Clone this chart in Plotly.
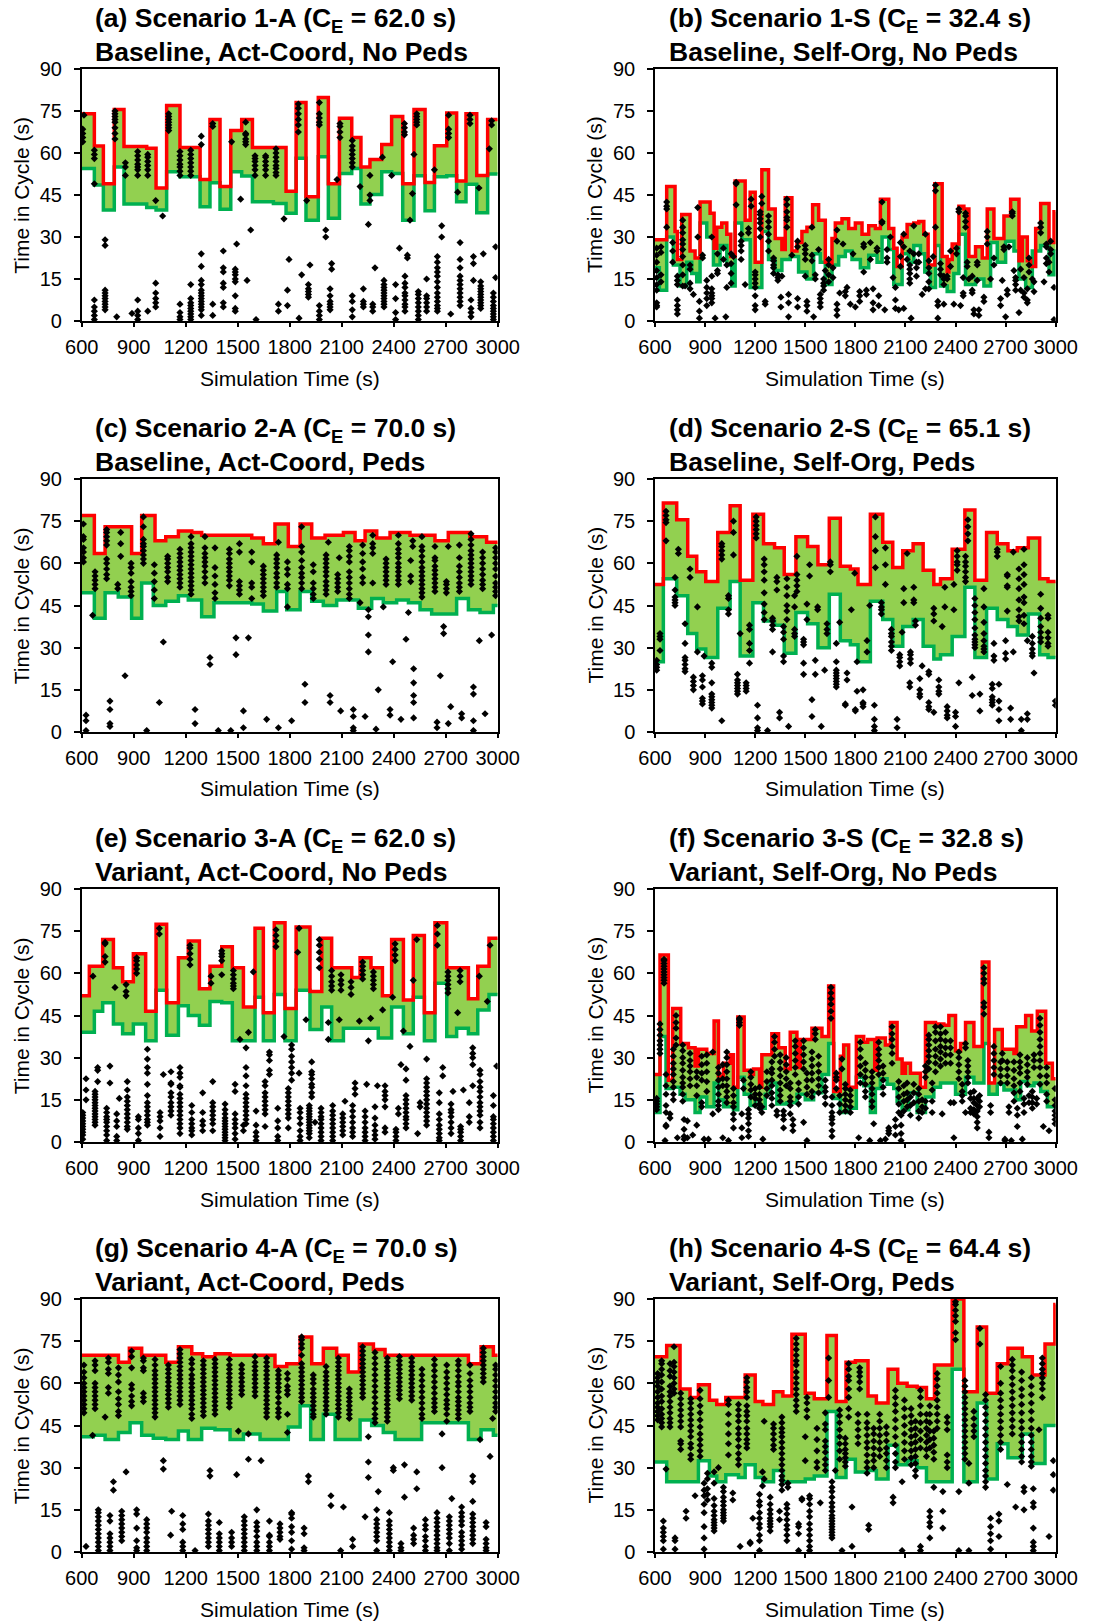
import plotly.graph_objects as go

# ---------------- data ----------------
TITLES1 = ["(a) Scenario 1-A (C<sub>E</sub> = 62.0 s)", "(b) Scenario 1-S (C<sub>E</sub> = 32.4 s)",
           "(c) Scenario 2-A (C<sub>E</sub> = 70.0 s)", "(d) Scenario 2-S (C<sub>E</sub> = 65.1 s)",
           "(e) Scenario 3-A (C<sub>E</sub> = 62.0 s)", "(f) Scenario 3-S (C<sub>E</sub> = 32.8 s)",
           "(g) Scenario 4-A (C<sub>E</sub> = 70.0 s)", "(h) Scenario 4-S (C<sub>E</sub> = 64.4 s)"]
TITLES2 = ["Baseline, Act-Coord, No Peds", "Baseline, Self-Org, No Peds",
           "Baseline, Act-Coord, Peds", "Baseline, Self-Org, Peds",
           "Variant, Act-Coord, No Peds", "Variant, Self-Org, No Peds",
           "Variant, Act-Coord, Peds", "Variant, Self-Org, Peds"]
X_TICKS = [600, 900, 1200, 1500, 1800, 2100, 2400, 2700, 3000]
Y_TICKS = [0, 15, 30, 45, 60, 75, 90]

# (a)
A_RED_T = [600, 673, 725, 788, 844, 975, 1029, 1090, 1167, 1283, 1340, 1398, 1460, 1523, 1585, 1779, 1837, 1894,
           1965, 2023, 2087, 2158, 2211, 2263, 2331, 2388, 2452, 2517, 2581, 2635, 2706, 2763, 2817, 2879, 2942, 3000]
A_RED_V = [74, 62.5, 49, 75.5, 62.3, 61.7, 47.5, 77, 62, 50.5, 72, 48, 68, 72, 62, 46.3, 78, 44.4, 79.8, 49, 72.4,
           65.5, 55, 57.7, 63, 73, 49, 75.5, 49.5, 62.6, 74.3, 50, 74, 52, 72]
A_GRN_T = [600, 673, 725, 788, 844, 975, 1029, 1090, 1167, 1283, 1340, 1398, 1460, 1523, 1585, 1706, 1779, 1837,
           1894, 1965, 2023, 2087, 2158, 2211, 2263, 2331, 2388, 2452, 2517, 2581, 2635, 2706, 2763, 2817, 2879, 2942, 3000]
A_GRN_V = [54.5, 48.6, 39.6, 55, 41.8, 40.5, 39.6, 53.3, 51.5, 40.8, 49.4, 39.9, 53.3, 51.8, 42.6, 42, 38.5, 58.1,
           36, 58.7, 36.7, 52.7, 54.5, 41.8, 45.2, 53.3, 52.7, 36, 51.9, 39.4, 51.5, 51.9, 42.6, 48.8, 38.7, 52.5]
A_PTS = [(606, [64, 65.5, 67, 68.5]), (613, [73.5]), (673, [49, 58, 59.5, 61, 0.5, 2, 3.5, 5, 7.5]),
         (735, [27, 29, 4, 5, 6, 7, 8, 9, 10, 11]), (792, [65, 67, 69, 71, 72, 73, 74, 75]), (802, [1.5]),
         (852, [52, 55, 56.5]), (890, [2.7]), (923, [52, 54, 55, 56, 57.5, 59, 60.5, 0.5, 2, 3.5, 7.5]),
         (981, [52, 54, 55.5, 57, 58.5, 59.5, 3.5]), (1027, [43, 5, 6.5, 8, 10, 13.5]), (1067, [37.5]),
         (1102, [68, 69, 70, 71, 72, 73, 74]), (1167, [52, 53.5, 55, 56, 57.5, 59, 60.5, 0.5, 1.5, 3, 6]),
         (1229, [52, 53.5, 55, 56.5, 58, 59.5, 61, 0.5, 1.5, 2.5, 3.5, 4.5, 5.5, 6.5, 8, 13]),
         (1290, [63, 66, 2, 4, 5, 6, 7, 8, 9, 10, 11, 13, 14.5, 19.5, 24]), (1356, [69.5, 70.5, 2, 6]),
         (1417, [5, 6.5, 12, 13.5, 17.5, 19, 25]), (1465, [64]), (1486, [3.5, 4.5, 9, 14, 15, 16.5, 17.5, 18.5]),
         (1494, [27.5]), (1517, [43.5]), (1546, [63, 64, 65, 66.5, 67, 71]), (1554, [14.5]), (1575, [32.5]),
         (1606, [0.5]), (1600, [52, 54, 55.5, 57, 58, 59]), (1661, [52, 54, 55.5, 57, 58.5, 59]),
         (1721, [52, 53, 54.5, 55.5, 57, 58.5, 60, 61.5]), (1735, [3.5, 6]), (1767, [36.5]), (1787, [5.5, 11]),
         (1796, [22]), (1850, [67.5, 70, 72, 74, 76, 77.5]), (1854, [1]), (1869, [16.5]), (1898, [43]),
         (1908, [8.5, 9.5, 10.5, 11.5, 13]), (1917, [20]), (1971, [70, 71, 72.5, 74, 78, 0.5, 2, 3.5, 5.5]),
         (2008, [30, 32.5]), (2033, [4, 5, 6, 7, 9, 11.5]), (2042, [18.5, 20.5]), (2073, [50.5]),
         (2090, [65.5, 67.5, 69.5, 70.5]), (2161, [55, 56.5, 58, 59.5, 61, 62.5, 64.5, 1.5, 4, 7, 9]),
         (2206, [48]), (2225, [5, 6, 7, 11.5]), (2254, [34.5]), (2263, [43, 45, 52]), (2279, [3.5, 5, 6]),
         (2292, [19]), (2335, [58.5]), (2344, [5, 6, 7, 8, 9, 10, 11, 12, 13, 14.5]), (2388, [52]),
         (2411, [0.5, 3, 8, 13]), (2433, [26]), (2462, [66.5, 67.5, 69, 70.5]),
         (2465, [3.5, 5, 6, 7.5, 9, 10, 12, 13.5, 16]), (2479, [22.5, 23.5]), (2494, [36]), (2508, [45.5]),
         (2517, [59.5]), (2533, [70, 71, 72, 73, 74]), (2542, [0.5, 2, 3.5, 5, 6.5, 8, 9.5, 10.5]),
         (2590, [3.5, 5, 6.5, 8, 9, 15]), (2635, [54]),
         (2652, [3.5, 4.5, 5.5, 7, 8.5, 10, 12, 14, 16, 17.5, 19, 21, 23]),
         (2677, [30, 34]), (2717, [65.5, 67, 68.5, 73.5]), (2729, [2.5]), (2769, [46]),
         (2783, [5.5, 7, 8.5, 10, 11.5, 13, 14.5, 16, 19, 22, 28]), (2840, [70.5, 72, 73.5]),
         (2846, [1.5, 3, 4.5, 7.5]), (2860, [14.5, 20.5, 23]), (2892, [47.5]),
         (2902, [4.5, 5.5, 6.5, 7.5, 8.5, 9.5, 10.5, 11.5, 12.5, 14]), (2917, [24]), (2952, [61.5]),
         (2965, [70, 71.5]), (2975, [0.5, 1.5, 2.5, 3.5, 4.5, 5.5, 7, 8.5, 10]), (2988, [15.5, 26.5])]

# (b)
B_RED_T = [600, 670, 720, 734, 760, 810, 840, 870, 930, 954, 970, 1000, 1030, 1054, 1080, 1140, 1170, 1200, 1240,
           1280, 1320, 1360, 1380, 1420, 1450, 1480, 1510, 1544, 1580, 1620, 1640, 1660, 1680, 1720, 1760, 1800,
           1840, 1880, 1920, 1950, 2000, 2030, 2050, 2080, 2110, 2150, 2180, 2210, 2236, 2276, 2320, 2350, 2360,
           2380, 2420, 2450, 2480, 2520, 2560, 2590, 2630, 2690, 2730, 2780, 2800, 2830, 2850, 2880, 2910, 2960,
           2990, 3000]
B_RED_V = [29, 48, 32, 22, 38, 25, 22.5, 42.5, 38.5, 26, 33.5, 35, 31, 23, 50, 36, 46, 21, 54, 40, 29.5, 25.5, 44,
           25, 28, 32, 33.5, 41.5, 36, 21, 20, 29.5, 35, 36.5, 33, 35, 31, 34, 33, 43.5, 33, 26, 19.5, 30, 34.5, 35,
           35.5, 31, 20, 49, 23, 17.5, 22, 27.5, 41, 40, 23, 26.5, 22.5, 40, 29.5, 37.5, 43.5, 21.5, 30, 21.5, 19.5,
           33, 42, 28, 39]
B_GRN_T = [600, 626, 670, 710, 750, 790, 820, 850, 870, 910, 950, 990, 1030, 1060, 1080, 1120, 1170, 1240, 1280,
           1320, 1360, 1410, 1460, 1510, 1550, 1590, 1620, 1660, 1700, 1740, 1780, 1830, 1880, 1930, 1960, 2000,
           2030, 2080, 2120, 2150, 2190, 2216, 2250, 2280, 2310, 2350, 2390, 2420, 2460, 2520, 2570, 2610, 2650,
           2700, 2750, 2780, 2820, 2860, 2910, 2960, 2990, 3000]
B_GRN_V = [19, 11, 30, 20, 12.5, 21, 17, 14, 35, 30, 20, 27, 20, 12.5, 35, 29, 12, 32, 22, 18, 22, 23, 17.5, 15, 24,
           21, 13, 20, 23, 25, 22, 19, 23.5, 21, 30, 25.5, 13, 24, 21, 27, 24, 17.5, 12, 27, 12.5, 10.5, 17, 31, 13,
           15, 12.5, 28, 21, 28.5, 25, 15, 12, 25, 27, 16.5, 25]
B_PTS = [(610, [5, 5.5, 6.5, 11, 13, 15.5, 18, 21, 23.5, 26]), (636, [14, 16.5, 24.5, 26.5]),
         (670, [33.5, 40, 41, 42.5]), (706, [21, 25, 28]), (734, [2.5, 4, 5.5, 7.5, 13, 14.5, 16]),
         (766, [12.5, 16.5, 20, 23, 25.5, 27.5, 29, 31.5, 33.5, 36]), (780, [12.5]), (810, [11.5, 13.5, 18.5, 20]),
         (830, [9.5]), (856, [30, 40.5]), (866, [1, 3.5, 7]), (885, [22.5, 23.5]), (910, [5.5, 8, 10, 12, 14.5]),
         (940, [6.5, 8, 9, 10, 11.5, 16, 30]), (960, [1]), (974, [17, 18, 24]), (1010, [22, 26]), (1024, [1.5]),
         (1030, [12, 20]), (1056, [13.5, 17, 20.5, 24]), (1070, [23]), (1086, [41.5, 49, 49.5]),
         (1116, [22, 25, 27, 28.5, 31]), (1140, [13]), (1160, [31.5, 33]), (1176, [41, 43.5]),
         (1200, [4, 5.5, 9, 12, 13.5, 15, 16.5, 17.5]), (1230, [30, 33, 35, 36.5, 38, 39]), (1240, [42, 44.5]),
         (1260, [6, 7]), (1280, [25, 28.5, 31, 33.5, 35.5, 37.5]), (1310, [17, 19, 20, 21.5, 22.5]),
         (1336, [14.5, 15.5, 16.5]), (1354, [5, 8.5]), (1360, [16]), (1390, [33.5, 36, 37, 39, 41.5, 43.5]),
         (1400, [1.5, 6.5, 9.5]), (1420, [23.5]), (1454, [5, 8, 26.5, 28.5]), (1500, [16, 22, 24, 25.5, 27]),
         (1510, [3.5, 5.5, 7]), (1540, [21.5, 23.5, 33.5]), (1550, [1.5]), (1560, [15, 16.5]), (1580, [25.5]),
         (1590, [5, 6.5, 8, 9.5]), (1610, [11, 12.5, 13.5, 15]), (1620, [18]), (1640, [14, 16.5, 20, 22]),
         (1666, [15.5, 19]), (1690, [2, 4, 6, 28.5, 32.5]), (1706, [10]), (1726, [27.5]), (1740, [9, 10.5]),
         (1750, [12]), (1770, [6]), (1786, [24]), (1800, [5]), (1826, [7, 9, 10.5]), (1850, [17.5, 26.5, 27.5]),
         (1866, [9.5, 11]), (1890, [28, 22]), (1906, [11.5, 4, 6.5]), (1930, [25, 26]), (1940, [5.5, 9]),
         (1960, [35, 35.5, 42.5]), (1976, [4]), (1990, [21, 22.5, 25.5]), (2010, [30]), (2026, [15.5]),
         (2040, [4.5, 7.5, 12]), (2060, [4]), (2070, [19.5, 23, 28]), (2090, [4.5, 26.5, 31]), (2110, [22]),
         (2126, [13.5, 15, 17, 18.5, 20, 25]), (2134, [1]), (2150, [24, 34]), (2166, [16, 19, 21]),
         (2180, [21, 24]), (2200, [9.5]), (2220, [31, 11.5]), (2240, [11.5, 14, 17, 19, 21.5]), (2266, [23]),
         (2280, [33.5, 46.5, 48.5]), (2294, [5.5, 7, 1]), (2310, [16.5, 18.5, 20.5]), (2330, [13, 15, 16, 6]),
         (2350, [16, 15]), (2370, [19.5, 25]), (2390, [6]), (2406, [26, 24]), (2420, [39, 40]), (2430, [5.5]),
         (2446, [15.5, 10, 9]), (2460, [33.5, 35.5, 37.5, 38.5]), (2470, [21, 19.5]), (2480, [15]),
         (2500, [10, 11, 16]), (2510, [4, 2.5]), (2530, [14.5, 20, 21]), (2540, [2, 4]), (2570, [7, 8.5]),
         (2590, [27.5, 30, 32]), (2610, [15]), (2630, [20, 22.5]), (2670, [5.5, 8]), (2680, [14.5]),
         (2690, [25.5, 26.5]), (2700, [1.5]), (2710, [9.5, 11]), (2720, [26.5]), (2740, [37.5, 38.5, 39]),
         (2750, [18]), (2760, [11, 13, 14.5, 15.5]), (2780, [3]), (2790, [11, 18.5]), (2810, [8.5, 10, 15.5]),
         (2830, [6.5, 7.5, 11.5]), (2840, [17.5, 20, 22.5]), (2860, [15]), (2870, [10.5, 14]),
         (2910, [31.5, 33.5, 35]), (2930, [14]), (2944, [20.5, 22.5, 26.5, 27.5]), (2960, [17.5, 21]),
         (2970, [24, 25.5, 28.5]), (2990, [0.5, 12])]

# (c)
C_RED_T = [600, 673, 735, 888, 946, 1023, 1085, 1158, 1235, 1292, 1581, 1648, 1715, 1792, 1860, 1927, 2004, 2110,
           2177, 2235, 2302, 2379, 2494, 2638, 2715, 2840, 2936, 3000]
C_RED_V = [77, 63.5, 73, 63.5, 77, 68, 69.5, 71.5, 71, 70, 69, 67, 74, 66, 74, 69, 70, 71, 68, 71.5, 69, 71, 70, 68,
           71, 69.5, 67.5]
C_GRN_T = [600, 673, 735, 811, 888, 946, 1013, 1085, 1158, 1215, 1292, 1363, 1581, 1648, 1725, 1783, 1860, 1927,
           1994, 2071, 2196, 2273, 2340, 2417, 2485, 2552, 2619, 2763, 2831, 2898, 2975, 3000]
C_GRN_V = [49.5, 40.5, 49.5, 48, 40.5, 53, 45, 46.5, 48.5, 47, 41, 46, 45.5, 43, 50, 43.5, 50, 46.5, 45, 47, 44,
           47.5, 46, 47, 46, 43.5, 42, 47.5, 43.5, 42.5, 45]
C_PTS = [(610, [60.5, 62, 64, 65.5, 68.5, 69.5, 74]), (625, [0.5, 4, 6]), (663, [41.5]),
         (677, [51, 52.5, 54, 55.5, 57]), (744, [54.5, 56, 58, 60, 61.5, 66.5, 68, 69.5, 71, 72]),
         (763, [2, 3, 8, 11]), (808, [51, 52.5]), (825, [62.5, 67, 71]), (850, [20]),
         (885, [48.5, 50, 51.5, 53.5, 56.5, 58.5, 60]), (956, [60, 61.5, 63, 64.5, 66, 67, 68.5, 73, 76.5]),
         (975, [0.5]), (1019, [47.5, 50.5, 53.5, 56.5, 59.5]), (1048, [10.5]), (1071, [32]),
         (1096, [53.5, 55, 57, 58.5, 60, 61.5, 62.5]), (1167, [51.5, 53, 54.5, 56, 57.5, 59, 60.5, 62, 63.5, 65]),
         (1231, [49, 50.5, 52, 53.5, 55, 56.5, 58, 59.5, 61, 62.5, 64, 65.5, 67, 69.5]), (1254, [3, 8]),
         (1311, [53, 55, 57, 59, 60.5, 62, 63.5, 65.5, 69.5]), (1340, [24, 26.5]),
         (1369, [47.5, 49.5, 52.5, 55.5, 58.5, 65.5]), (1388, [0.5]),
         (1452, [52, 54, 55.5, 57, 58.5, 60, 61.5, 63.5, 65]), (1460, [0.5]), (1490, [27.5, 33.5]),
         (1510, [49, 50.5, 52, 53.5, 64, 67]), (1533, [1.5, 7.5]), (1562, [33.5]), (1581, [47.5, 51.5, 53, 60.5, 64]),
         (1648, [48.5, 50, 51.5, 53, 54.5, 56, 57.5, 59]), (1667, [4.5]),
         (1725, [51.5, 53, 55, 56.5, 58.5, 60, 61.5, 63]), (1735, [1.5, 67.5]),
         (1787, [44.5, 51, 52.5, 56, 58, 60.5]), (1811, [4]), (1869, [51, 53, 55, 56.5, 58.5, 61, 64, 66, 73]),
         (1888, [10.5, 17]), (1936, [47.5, 49, 51, 53, 57, 59.5]),
         (2010, [49, 50.5, 52, 53.5, 55.5, 57, 58.5, 60, 61.5, 63]), (2023, [67.5]), (2033, [10.5, 13]),
         (2077, [50, 51.5, 53, 54.5, 56]), (2086, [62]), (2094, [7.5]),
         (2144, [47.5, 49, 51, 53, 55, 57, 60.5, 62.5, 64.5, 66]), (2167, [0.5, 1.5, 5.5, 8]), (2206, [46]),
         (2221, [53, 55, 58, 60.5, 63.5, 66.5]), (2235, [5.5]), (2254, [28.5, 34.5, 41, 43.5]),
         (2279, [53, 63.5, 65.5, 67, 70]), (2298, [1]), (2311, [15]), (2340, [44.5]),
         (2356, [52.5, 54, 55.5, 57, 58.5, 60, 61.5]), (2379, [6, 8]), (2394, [25]),
         (2427, [52.5, 54, 55.5, 57, 58.5, 60, 62, 63.5, 65, 67, 70]), (2442, [4.5]), (2471, [33]), (2485, [42.5]),
         (2498, [53.5, 55.5, 61]), (2510, [66, 68]), (2515, [5, 10.5, 13, 17.5, 22.5]),
         (2563, [48, 49.5, 51, 52.5, 54, 55.5, 57, 58.5, 60.5, 62.5, 64.5, 66, 69.5]),
         (2638, [50, 51.5, 53, 54.5, 56, 57.5, 59, 61, 62, 66]), (2650, [1.5, 3.5]), (2669, [20]),
         (2688, [35, 37.5]), (2704, [49.5, 51, 52.5, 53.5]), (2715, [3, 66]), (2729, [9]),
         (2779, [50, 51.5, 53, 55, 57, 59, 62, 66.5]), (2792, [5, 6.5]),
         (2846, [52.5, 54, 55.5, 57, 58.5, 60, 61.5, 63, 64.5, 66.5, 68.5, 70.5]), (2860, [0.5, 4, 13.5, 16]),
         (2894, [32.5]), (2913, [51, 52.5, 54, 56, 58, 60, 62, 64]), (2927, [6.5]), (2965, [34.5]),
         (2988, [48.5, 50, 51.5, 53, 55.5, 58, 60, 62, 64, 65.5])]

# (d)
D_T = [600, 650, 730, 796, 850, 904, 976, 1050, 1110, 1186, 1250, 1316, 1374, 1444, 1514, 1576, 1644, 1710, 1770,
       1816, 1890, 1964, 2024, 2084, 2146, 2206, 2270, 2310, 2380, 2456, 2516, 2586, 2650, 2714, 2770, 2836, 2904,
       2954, 3000]
D_RED_V = [52.5, 81.5, 75.5, 62.5, 57, 53.5, 71, 80.5, 54, 77.5, 67, 65.5, 56, 69.5, 66, 59.5, 76, 59, 58, 52.5,
           77.5, 67.5, 58.5, 64.5, 67, 57.5, 52.5, 54.5, 65, 79, 54, 71, 67, 64.5, 65.5, 69, 54.5, 53.5]
D_GRN_V = [25, 54.5, 48.5, 35, 29.5, 26.5, 44, 53.5, 27, 46, 39.5, 38, 28, 42.5, 38.5, 30, 49, 32.5, 31, 25, 46.5,
           40, 30.5, 37.5, 40, 30.5, 26, 27.5, 34, 51.5, 26.5, 44, 40, 37.5, 34.5, 42, 27.5, 26.5]
D_PTS = [(610, [22, 23, 24, 25.5]), (630, [29, 33, 34, 35]), (666, [68, 74.5, 75.5, 77, 78.5]),
         (720, [45, 46, 47, 48, 50.5, 55]), (740, [63.5, 65]), (780, [21.5, 22.5, 24, 25.5, 26.5, 31.5, 38.5]),
         (810, [55, 58]), (830, [15, 16.5, 18, 19.5]), (854, [28.5, 44.5]), (884, [10, 11, 12, 16, 18.5, 20]),
         (894, [27]), (940, [8.5, 9.5, 10.5, 11.5, 12.5, 13.5, 17.5, 23, 24.5]), (1000, [4, 61.5, 63, 64.5, 66, 67]),
         (1040, [42, 43.5, 47.5, 48.5]), (1070, [63, 71, 75]), (1094, [13.5, 14.5, 15.5, 16.5, 17.5, 18.5, 20.5]),
         (1110, [35]), (1146, [14.5, 15.5, 16.5, 17.5]), (1166, [24.5, 29, 31.5, 36.5, 38]),
         (1206, [69, 70.5, 72, 73.5, 75, 76.5]), (1214, [0.5, 1.5, 5, 9.5]),
         (1254, [40, 42.5, 45.5, 49.5, 54, 57, 59.5, 61.5]), (1274, [0.5]), (1304, [28.5, 36.5, 38, 39.5, 40.5]),
         (1330, [50.5, 53.5, 55]), (1346, [5, 7]), (1370, [25, 27, 33, 35.5, 37.5]),
         (1390, [40, 43, 45, 48.5, 51.5, 54.5]), (1400, [2]), (1436, [34, 35, 36.5, 44.5, 48.5]),
         (1450, [50, 52, 54, 56, 62.5]), (1490, [20.5, 24.5, 31, 32, 33]), (1510, [40, 45.5]), (1526, [55.5, 59.5]),
         (1540, [5.5, 11.5]), (1560, [20.5, 25.5]), (1574, [43.5, 44.5]), (1596, [2]), (1616, [22]),
         (1630, [35, 36.5, 38.5]), (1650, [57, 59.5, 60.5]), (1686, [16, 17, 18, 19, 20, 21, 22, 25, 31.5]),
         (1706, [39]), (1740, [9.5, 10]), (1750, [18.5, 21]), (1776, [43.5]), (1796, [56.5]), (1800, [7.5, 8]),
         (1810, [25, 14.5]), (1846, [9, 10, 10.5, 15]), (1870, [28.5, 32.5]), (1886, [45]), (1914, [0.5, 2, 4.5, 9.5]),
         (1920, [58.5, 64.5, 69.5, 76.5]), (1956, [42, 43.5, 44.5, 46]), (1980, [52.5, 59.5, 65.5]),
         (2016, [29, 30.5, 32, 34, 35, 36.5]), (2050, [1.5, 4.5]), (2066, [23.5, 25, 26.5, 27.5]), (2080, [35.5]),
         (2090, [46, 51]), (2110, [63.5]), (2126, [16, 17.5]), (2130, [24.5, 26, 27.5, 28.5]), (2150, [46, 47, 51.5]),
         (2160, [38, 39.5]), (2186, [12.5, 13.5, 15, 19]), (2200, [23.5]), (2240, [8, 9, 10.5, 20.5, 21.5]),
         (2270, [7, 39.5, 42, 44]), (2300, [13.5, 14.5, 16, 18.5]), (2320, [37.5]), (2336, [51.5, 44.5]),
         (2350, [5, 6, 7.5, 9]), (2390, [43.5, 52.5]), (2400, [2, 5.5, 7]), (2410, [57.5, 59.5, 60.5, 62.5, 64.5]),
         (2420, [17.5]), (2460, [53.5, 55, 57, 59, 60.5, 62.5]), (2474, [68, 70.5, 73, 75.5]), (2500, [13, 19.5]),
         (2516, [30, 31, 32, 33, 34.5, 37, 40, 42.5, 45, 47.5]), (2546, [7.5, 13.5]),
         (2570, [28.5, 29.5, 30.5, 32.5, 35, 39, 44.5, 51]), (2620, [9.5, 10.5, 11.5, 12.5, 15.5, 17]),
         (2630, [25.5, 27, 31.5]), (2650, [62.5, 64, 65]), (2660, [4, 8, 11, 17]), (2700, [26, 28, 32.5]),
         (2710, [43, 51.5, 52, 55.5, 56]), (2730, [4.5, 8.5]), (2746, [28.5, 64]),
         (2780, [39.5, 41, 43.5, 47, 51, 54.5, 58]), (2794, [0.5, 4.5]),
         (2810, [38.5, 41.5, 46, 48, 52.5, 56, 59.5, 65]), (2830, [32.5, 4.5, 6.5]),
         (2860, [27, 28, 29.5, 31.5, 34]), (2870, [21]), (2910, [32, 33.5, 35.5, 37.5, 40.5, 44, 49]),
         (2954, [30.5, 31.5, 33.5, 35.5, 40.5, 41.5]), (2998, [9.5, 11])]

# (e)
E_RED_T = [600, 644, 721, 783, 836, 898, 969, 1029, 1090, 1158, 1215, 1279, 1340, 1408, 1469, 1533, 1600, 1648,
           1711, 1773, 1837, 1917, 1985, 2042, 2158, 2206, 2269, 2335, 2388, 2456, 2513, 2577, 2638, 2706, 2831,
           2885, 2950, 3000]
E_RED_V = [52, 62.5, 72, 62, 57, 67, 46.5, 77.5, 49.5, 65.5, 71.5, 54.5, 62.5, 69.5, 62, 48, 76, 46, 78, 47.5,
           76.5, 53.5, 72.5, 62, 58.5, 65.5, 62, 52, 72, 50.5, 73.5, 46, 78, 62, 51, 62.5, 72.5]
E_GRN_T = [600, 673, 721, 783, 836, 898, 969, 1029, 1090, 1158, 1215, 1279, 1340, 1408, 1469, 1600, 1648, 1711,
           1773, 1837, 1917, 1985, 2042, 2110, 2311, 2388, 2456, 2513, 2577, 2638, 2706, 2763, 2831, 2885, 2950, 3000]
E_GRN_V = [39, 46.5, 49.5, 42, 38.5, 42, 36, 54, 38, 48.5, 45, 41.5, 50, 49.5, 36, 51.5, 36, 52.5, 36, 54, 40, 48,
           36, 40.5, 37, 48, 38.5, 51.5, 36, 56.5, 37.5, 40.5, 38.5, 47, 52.5]
E_PTS = [(606, [1, 2.5, 3.5, 4.5, 5.5, 6.5, 7.5, 8.5, 9.5, 10.5]), (625, [15, 18.5, 22.5]), (665, [59]),
         (677, [6, 7, 8, 9, 10, 11, 12, 13, 14, 15, 16, 17, 18]), (692, [21.5, 25.5, 26.5]),
         (735, [64, 66, 70.5, 71]), (744, [0.5, 2.5, 4, 5.5, 7, 8, 9, 10.5, 12]), (763, [21, 27]), (792, [55]),
         (802, [0.5, 2, 5.5, 7.5, 10]), (817, [15.5]), (856, [52, 53.5, 56]),
         (863, [4.5, 5.5, 7, 8.5, 10, 11.5, 13, 14.5, 16, 18.5, 21.5]), (917, [60, 61.5, 63, 64.5, 65.5]),
         (927, [0.5, 3, 5, 8, 9]), (979, [6, 7, 8, 9.5, 11, 12.5, 14, 16.5, 20.5, 24.5, 26.5, 29.5, 33]),
         (1048, [74, 76]), (1052, [2, 5, 7.5, 9, 10.5]), (1071, [24]),
         (1115, [9.5, 11, 12.5, 14, 16, 17.5, 20.5, 21, 25]),
         (1167, [3, 5, 6.5, 8, 9.5, 11, 12.5, 14, 15.5, 17, 19.5, 20, 23, 24.5, 26.5]),
         (1225, [63, 65, 67, 69, 70]), (1235, [2.5, 4, 5, 6.5, 8, 10.5, 13]), (1298, [4, 6, 7.5, 10.5, 17.5]),
         (1346, [56.5, 59]), (1356, [4, 6.5, 8, 9.5, 11, 12.5, 14, 21.5]), (1408, [59.5, 64.5, 66, 67, 68]),
         (1427, [0.5, 1.5, 2.5, 3.5, 4.5, 5.5, 6.5, 7.5, 8.5, 10, 11.5, 13.5]),
         (1475, [54.5, 55.5, 56.5, 58, 59.5, 61]), (1485, [1, 3, 5, 6.5, 8, 10, 18, 20.5]), (1513, [36.5]),
         (1533, [4, 6]), (1548, [6.5, 8, 9.5, 11, 12.5, 14, 15.5, 17, 20, 23.5, 26.5, 33.5]), (1562, [39]),
         (1590, [60.5]), (1606, [0.5, 2, 3.5, 6, 11]), (1658, [5.5, 10, 11.5, 13, 14.5, 16, 17.5, 20, 21.5]),
         (1683, [24, 25.5, 29, 31, 32]), (1721, [69.5, 71.5, 73.5, 75.5]), (1731, [0.5, 2, 5, 7.5, 12]),
         (1767, [37.5]), (1792, [5, 8.5, 10, 11.5, 13, 14.5, 16, 17.5, 19]),
         (1811, [22, 24.5, 26.5, 28.5, 30.5, 33, 34.5]), (1846, [67.5]), (1854, [76, 24.5]),
         (1860, [0.5, 2, 4, 6.5, 8.5, 10.5, 12]), (1894, [43.5]),
         (1913, [1.5, 3, 4, 5, 6, 7, 8, 9, 10, 11, 12, 13]), (1927, [16, 17.5, 19.5, 20.5, 22.5, 24, 25, 28.5]),
         (1946, [7]), (1971, [62, 65, 67.5, 70, 72]), (1981, [0.5, 2, 3.5, 5, 6.5, 8, 9, 10.5, 12]),
         (2023, [36.5, 42.5]), (2042, [54, 55.5, 57, 59, 61]), (2048, [0.5, 2, 3.5, 5, 6.5, 8, 9.5, 11, 13]),
         (2086, [43.5]), (2096, [54, 56, 57.5, 59.5]), (2106, [2.5, 4, 5.5, 7, 8.5, 10]), (2119, [14.5]),
         (2154, [57, 55, 52.5]), (2163, [2, 3.5, 5, 7, 9, 11, 13]), (2177, [17, 19, 21]), (2202, [43]),
         (2221, [58, 59.5, 61, 62.5, 64]), (2235, [0.5, 2, 3.5, 5, 7, 9, 11]), (2244, [20.5]), (2254, [36]),
         (2267, [44]), (2283, [54.5, 56, 57.5, 59, 60.5]), (2292, [1, 2.5, 4, 6, 8.5, 12.5]), (2306, [20]),
         (2336, [47]), (2350, [3.5, 5, 12.5, 15, 16.5, 18, 20]), (2394, [51.5]), (2408, [64.5, 66.5, 68.5, 70.5]),
         (2413, [0.5, 2, 3.5, 4.5]), (2427, [10, 12]), (2442, [27.5]), (2456, [39.5]),
         (2471, [5, 6.5, 8, 9, 10.5, 12, 13.5, 15, 16.5, 22, 26]), (2494, [34]), (2513, [57.5]), (2533, [72]),
         (2538, [3]), (2552, [12.5, 14]), (2590, [6, 7.5, 9, 10.5, 12, 13.5, 15, 16.5, 18, 19.5, 21, 22.5, 29.5]),
         (2652, [70, 74, 77]), (2663, [0.5, 1.5, 3, 4.5, 6, 8, 10, 14, 17.5]), (2683, [23.5, 26.5]),
         (2713, [53, 54.5, 56, 57.5, 59, 60.5]), (2731, [3, 5, 7, 9, 10.5, 11.5, 13.5]), (2742, [18]),
         (2769, [46]), (2783, [57, 59, 61]), (2786, [0.5, 2, 3.5, 4.5, 5.5]), (2802, [18.5]), (2836, [7, 9, 14]),
         (2856, [20, 27.5, 30, 31.5, 33.5]), (2894, [59]),
         (2898, [5, 7, 9.5, 11, 12.5, 14, 16, 18, 19.5, 21.5, 24, 25.5]), (2940, [50]), (2956, [70]),
         (2975, [0.5, 2, 3.5, 5, 6.5, 8, 9, 13, 16.5]), (2994, [27])]

# (f)
F_RED_T = [600, 630, 680, 706, 754, 800, 840, 860, 910, 954, 980, 1010, 1050, 1070, 1096, 1134, 1170, 1190, 1226,
           1240, 1300, 1340, 1380, 1410, 1450, 1470, 1540, 1600, 1640, 1670, 1710, 1730, 1760, 1806, 1850, 1874,
           1916, 1930, 1980, 2010, 2050, 2080, 2100, 2130, 2190, 2220, 2280, 2330, 2360, 2400, 2430, 2460, 2510,
           2560, 2600, 2634, 2680, 2750, 2766, 2820, 2856, 2890, 2940, 2980, 3000]
F_RED_V = [24, 66.5, 22, 47.5, 35, 33.5, 27, 33, 31.5, 43, 23.5, 28, 31, 19.5, 44.5, 25.5, 24, 26, 19.5, 31, 38.5,
           33.5, 26, 39, 26.5, 36.5, 40.5, 37.5, 55.5, 18, 30.5, 34.5, 19.5, 37.5, 35.5, 36.5, 25.5, 37, 34.5, 42.5,
           29.5, 24.5, 28, 24.5, 19.5, 42.5, 42, 41.5, 45, 32.5, 35, 42.5, 34, 64, 21, 40, 33, 31.5, 41, 45, 39.5,
           46.5, 28, 22.5]
F_GRN_T = [600, 630, 666, 710, 750, 780, 840, 870, 910, 954, 980, 1010, 1070, 1096, 1134, 1170, 1200, 1226, 1260,
           1290, 1330, 1390, 1450, 1500, 1550, 1600, 1640, 1670, 1710, 1760, 1806, 1850, 1890, 1920, 1950, 1990,
           2030, 2050, 2080, 2120, 2170, 2220, 2270, 2310, 2400, 2460, 2510, 2570, 2600, 2650, 2690, 2760, 2790,
           2830, 2870, 2910, 2950, 3000]
F_GRN_V = [10.5, 37.5, 19, 19.5, 17, 15, 10.5, 16, 12.5, 21, 15, 12.5, 11.5, 23, 17, 13, 15, 12, 17, 21, 13.5, 14,
           17, 15, 17.5, 24, 35, 15.5, 10.5, 12, 23, 20, 10.5, 19, 22.5, 20.5, 19, 14.5, 11.5, 17.5, 10.5, 16, 19.5,
           21, 17, 23, 21, 35, 17, 20.5, 18.5, 15, 21.5, 20, 21, 18, 12.5]
F_PTS = [(610, [11.5, 12.5, 13.5, 14.5, 15.5]), (630, [31.5, 33, 34.5, 36, 38, 40, 42]),
         (654, [56.5, 57.5, 58.5, 59.5, 60.5, 61.5, 62.5, 63.5, 64.5, 65]), (666, [5.5, 6, 10.5, 13, 17, 20, 24]),
         (660, [0.5]), (690, [8.5, 10]), (710, [15, 17, 19.5, 21.5, 24, 26, 28, 30.5, 33]),
         (726, [34.5, 37, 40.5, 42.5, 45]), (734, [1.5]), (766, [14.5, 17, 19.5, 21, 23, 25.5, 28, 30, 32.5, 34.5]),
         (774, [1, 2, 4.5, 8]), (794, [1.5, 7.5]), (810, [20, 22.5, 25, 27, 29, 31.5]), (826, [2.5]),
         (850, [6, 16.5, 20, 23, 25]), (880, [12.5, 14, 22, 24.5, 27.5, 30.5]), (894, [1]),
         (910, [18, 21.5, 25, 28, 31]), (920, [1]), (946, [10, 32]), (980, [11.5, 13, 14.5, 17, 19.5, 22, 24.5, 26.5]),
         (1006, [1.5, 20, 22.5, 27.5]), (1030, [14, 16, 18, 20, 22.5, 25, 27.5, 30, 32]), (1040, [0.5]),
         (1070, [5, 8, 10, 12.5, 14, 16.5, 19]), (1106, [41.5, 42.5, 43.5, 44]), (1120, [1.5, 5, 10]),
         (1130, [19, 22]), (1160, [2, 4, 6.5, 8.5, 10, 11.5]), (1174, [16, 18.5, 20.5, 23, 25]),
         (1200, [13, 15.5, 17, 19]), (1226, [12, 13.5, 15, 17, 19.5]), (1240, [10.5, 12.5]), (1246, [1]),
         (1270, [16.5, 19, 21.5, 25]), (1300, [13, 15.5, 17.5, 20, 22, 24.5, 26, 28.5]),
         (1316, [30.5, 33, 35.5, 37.5]), (1330, [9.5, 11]), (1350, [14.5, 16.5, 18.5, 21, 23.5, 26, 28.5, 31]),
         (1370, [5, 8, 9.5, 11]), (1386, [20, 22.5, 25, 27.5, 30]), (1410, [10, 13, 14.5, 16, 19, 21]),
         (1426, [4, 6, 8]), (1440, [24, 26.5, 29, 31.5, 34, 36]), (1460, [13.5, 16, 18.5, 21]),
         (1490, [7, 26, 28.5, 31, 33.5, 36]), (1510, [0.5, 17, 19.5, 22, 24.5]),
         (1540, [16, 18, 22, 24.5, 27, 29.5, 32]), (1560, [36.5, 38.5, 40]), (1580, [17.5, 20, 22.5, 25, 27.5, 30.5]),
         (1620, [13.5, 16, 18, 19.5, 22]), (1654, [44, 46.5, 49, 51, 53, 55]),
         (1660, [2, 4, 6.5, 8, 9, 10.5, 13, 16]), (1686, [19, 22, 23, 24.5]), (1706, [10.5, 13.5, 16.5]),
         (1720, [26, 29.5]), (1740, [11, 13, 15, 17, 19, 20.5]), (1770, [10.5, 12.5, 14.5, 16.5, 18.5]),
         (1820, [1.5]), (1830, [21, 24, 27, 30, 33, 35.5]), (1860, [16, 18, 20.5, 23, 25.5, 28]), (1886, [0.5]),
         (1900, [12.5, 14.5, 17, 19, 21, 23, 25]), (1910, [6.5]), (1940, [24, 26.5, 29, 31, 33, 35.5]),
         (1950, [0.5]), (1966, [17, 19.5, 22, 24.5, 27]), (1980, [1]), (2000, [3, 4, 5]),
         (2020, [28, 31.5, 34, 36.5, 38.5, 41]), (2040, [2.5, 5.5, 8]), (2060, [10.5, 13.5, 16, 19, 21.5]),
         (2074, [0.5, 3, 6, 9.5]), (2090, [11, 14.5, 17, 20]), (2110, [12.5, 15, 17.5, 21]), (2130, [9.5, 13, 16]),
         (2150, [14, 17.5, 20.5]), (2180, [8.5, 11, 14.5, 17, 19]), (2200, [10.5, 12.5, 15]),
         (2220, [12, 14.5, 23, 25, 27]), (2240, [26, 28.5, 30.5, 32.5, 34.5, 36.5, 38]), (2260, [10.5, 14.5, 18.5, 21]),
         (2280, [25, 28, 30.5, 33, 36, 39, 41]), (2310, [27, 29.5, 32, 34, 36.5, 38.5, 41]), (2320, [10]),
         (2340, [28, 31, 33.5, 36, 39]), (2370, [14, 28, 31, 33.5, 36]), (2390, [1.5, 14]),
         (2420, [22.5, 25, 27.5, 30, 32]), (2440, [14.5, 16.5, 18, 20.5]), (2460, [10.5, 33.5, 35]),
         (2474, [21, 23, 25, 27, 29]), (2490, [10.5, 12, 15.5, 17.5]), (2510, [10, 11.5, 14, 15.5, 18]),
         (2530, [5, 7, 9, 11, 13, 15.5]), (2544, [12.5, 14.5, 16.5]), (2570, [45.5, 48, 49.5, 56.5, 58, 60, 62]),
         (2600, [1.5, 3.5]), (2610, [10.5, 13]), (2630, [24, 26.5, 29, 31.5, 34]), (2670, [21, 23.5, 26, 28.5]),
         (2680, [29, 31.5]), (2696, [0.5, 1]), (2710, [21, 23.5, 26, 28.5]), (2720, [10.5, 12.5]), (2734, [0.5]),
         (2750, [14.5, 17.5, 20, 22.5, 25.5, 28.5]), (2770, [5.5, 9.5, 12]), (2786, [18, 21, 24.5, 26.5, 28.5, 31]),
         (2800, [1]), (2810, [10.5, 13.5, 15.5]), (2830, [20.5, 23, 25, 27.5, 30]), (2840, [14, 16.5]),
         (2860, [12, 14, 16, 18]), (2870, [26.5, 29, 31]), (2886, [13.5, 15.5]),
         (2906, [20.5, 23.5, 26.5, 29, 31.5, 34, 36.5, 39, 41.5, 44]), (2926, [5.5]),
         (2946, [14.5, 17, 21, 23.5, 26.5]), (2960, [4]), (2996, [6.5, 8, 9.5, 11, 13, 15, 19])]

# (g)
G_RED_T = [600, 812, 875, 946, 1085, 1158, 1235, 1298, 1369, 1456, 1715, 1783, 1860, 1927, 1994, 2071, 2138, 2202,
           2283, 2350, 2831, 2904, 2975, 3000]
G_RED_V = [70, 67.5, 72.5, 70, 67.5, 73, 70.5, 69.5, 70.5, 70, 66, 67, 76.5, 67, 72.5, 70, 64, 74, 72, 70, 67, 73, 70]
G_GRN_T = [600, 667, 735, 812, 879, 946, 1013, 1085, 1158, 1215, 1292, 1369, 1456, 1533, 1629, 1792, 1860, 1921,
           1994, 2062, 2206, 2273, 2340, 2408, 2561, 2831, 2904, 2975, 3000]
G_GRN_V = [41, 41.5, 40, 42.5, 46, 41.5, 40.5, 40, 43, 40, 44, 43.5, 40, 42, 40, 44.5, 52, 40, 49, 40, 47, 45, 42.5,
           40, 46, 40, 43.5, 41.5]
G_PTS = [(613, [49.5, 51, 52.5, 54, 55.5, 57, 58.5, 60, 62, 64, 66.5]), (625, [2]), (663, [41.5]),
         (677, [51, 52.5, 54, 55.5, 57, 58.5, 60, 64.5, 66.5, 68]),
         (696, [0.5, 2, 3.5, 5, 6.5, 8, 9.5, 11, 12.5, 14, 15]), (735, [48]), (754, [56.5, 58.5, 63.5, 65, 67.5, 69]),
         (763, [0.5, 2, 3.5, 5, 6.5, 11, 13]), (783, [22, 25]), (812, [48.5, 50, 52.5, 54.5, 57, 60.5, 63, 65.5]),
         (831, [4, 5.5, 7, 8.5, 10, 11.5, 13, 14.5]), (856, [28.5]),
         (888, [52, 53.5, 55.5, 58, 59.5, 65.5, 69.5, 71.5]), (917, [0.5, 1.5, 4, 8.5, 13.5, 15]),
         (956, [53.5, 55, 56.5, 64.5, 65.5, 68, 69]), (975, [0.5, 2, 3.5, 5, 7, 8.5, 10, 11.5]),
         (1023, [48, 49.5, 51, 52.5, 54, 55.5, 57, 58.5, 60, 61.5, 63, 64.5, 66.5, 68.5]), (1071, [29.5, 32.5]),
         (1100, [51.5, 53, 54.5, 56, 57.5, 59, 60.5, 62, 63.5, 65, 66.5]), (1113, [6]), (1119, [14.5]),
         (1167, [52.5, 54, 55.5, 57, 58.5, 60, 61.5, 63, 64.5, 66, 67.5, 69, 70.5, 72]),
         (1183, [0.5, 2, 3.5, 8, 10, 13]),
         (1235, [47.5, 49, 51, 52.5, 54, 55.5, 57, 58.5, 60, 61.5, 63, 65, 67, 68.5]), (1254, [0.5]),
         (1302, [48.5, 50, 51.5, 53, 54.5, 56, 57.5, 59, 60.5, 62, 63.5, 65, 66.5, 68]),
         (1331, [2, 3.5, 5, 6.5, 8, 9.5, 11, 13.5]), (1340, [27, 29]),
         (1369, [49, 50.5, 52, 53.5, 55, 56.5, 58, 59.5, 61, 62.5, 64, 65.5, 67, 68.5]),
         (1394, [0.5, 2, 3.5, 5, 6.5, 10.5]), (1452, [51.5, 53, 54.5, 56, 57.5, 59, 60.5, 62, 63.5, 65, 66.5, 68.5]),
         (1465, [2, 3.5, 5, 7]), (1494, [27.5]), (1504, [43]), (1523, [56, 57.5, 59, 60.5, 62, 63.5, 65, 66.5]),
         (1538, [0.5, 2, 3.5, 5, 6.5, 8, 9.5, 11, 12.5]), (1562, [33, 42]),
         (1600, [55.5, 57, 58.5, 60, 61.5, 63, 64.5, 66, 67.5, 69.5]), (1610, [0.5, 2, 3.5, 5.5, 7.5, 9, 10.5, 15]),
         (1635, [32.5]), (1667, [48, 49.5, 51, 52.5, 54, 55.5, 57, 58.5, 60, 61.5, 63, 64.5, 66, 67.5, 69]),
         (1683, [0.5, 2, 3.5, 5.5, 6, 11]), (1735, [48, 49.5, 51, 53, 55, 57, 58.5, 60, 61.5, 63, 64.5]),
         (1744, [4.5, 5.5, 7, 8.5, 10]), (1787, [42.5, 49, 56, 57.5, 59, 61.5, 63.5]),
         (1811, [1, 4, 7, 9, 12, 13.5, 14]),
         (1869, [53.5, 55, 56.5, 58, 59.5, 61, 62.5, 64, 65.5, 67, 70, 72.5, 74, 75.5, 76.5]),
         (1883, [0.5, 1.5, 6.5, 8.5]), (1908, [25, 27]), (1936, [48, 49, 50.5, 52, 53.5, 55, 56.5, 58, 60, 61.5, 63]),
         (2038, [16.5, 20]), (2010, [49, 50.5, 52, 53.5, 55, 56.5, 58, 59.5, 61, 62.5, 64, 66]),
         (2081, [48, 49.5, 51, 52.5, 54, 55.5, 57, 58.5, 60, 61.5, 63, 64.5, 66, 67.5, 69]), (2094, [0.5]),
         (2110, [16]), (2144, [47.5, 49, 50.5, 52, 53.5, 55, 56.5, 58]), (2163, [2, 4.5]),
         (2221, [55, 56.5, 58, 59.5, 61, 62.5, 64, 65.5, 67, 68.5, 70, 71.5, 73]), (2235, [12.5]),
         (2254, [26.5, 32, 41]), (2292, [46, 47.5, 49, 51, 53, 55, 57, 59, 61, 63, 65, 67, 69, 71]),
         (2302, [0.5, 4, 5.5, 7, 8.5, 10, 11.5, 15]), (2311, [21.5]),
         (2363, [46.5, 48, 49.5, 51, 52.5, 54, 55.5, 57, 58.5, 60, 61.5, 63, 64.5, 66, 67.5, 69]),
         (2375, [0.5, 2, 3.5, 5, 6.5, 8, 9.5, 11, 14]), (2398, [29, 30]),
         (2433, [54.5, 56, 57.5, 59, 60.5, 62, 63.5, 65, 66.5, 68, 69.5]), (2442, [0.5, 1.5, 3]),
         (2462, [19.5, 31]), (2504, [54, 55.5, 57, 58.5, 60, 61.5, 63, 64.5, 66, 67.5, 69]), (2515, [3, 4.5, 6, 8.5]),
         (2533, [22.5, 28.5]), (2563, [47.5, 49, 51, 53, 55, 57, 59, 61, 63, 65]), (2583, [0.5, 2, 4, 5.5, 8, 9.5, 11.5]),
         (2635, [50, 51.5, 53, 54.5, 56.5, 58.5, 60.5, 62.5, 64.5, 66.5, 68.5]),
         (2650, [0.5, 1.5, 3, 4.5, 6, 7.5, 9, 10.5, 12, 14]), (2679, [30, 42]),
         (2706, [46.5, 49, 51, 52.5, 54, 56, 58, 60, 62, 64, 66.5]), (2721, [0.5, 3, 5, 6.5, 8, 9.5, 11, 12.5]),
         (2735, [19]), (2773, [47.5, 49, 50.5, 52, 53.5, 55, 57, 59, 60.5, 62.5, 64.5, 66.5, 68]),
         (2792, [1, 2.5, 4, 5.5, 7, 9.5, 11, 12.5, 14, 16]), (2840, [50, 51.5, 53, 55, 57, 59, 61, 63.5, 66.5]),
         (2856, [3, 4.5, 6, 7.5, 9, 10.5, 12, 13.5, 18, 25, 27]), (2898, [40]),
         (2917, [60.5, 62, 63.5, 65, 66.5, 68, 69.5, 71, 72.5]), (2933, [0.5, 1.5, 3, 4.5, 9, 10.5]), (2956, [34]),
         (2971, [47.5]), (2988, [50, 51.5, 53, 55, 57, 59, 61, 63, 65, 66.5])]

# (h)
H_RED_T = [600, 670, 750, 810, 860, 926, 970, 1024, 1140, 1200, 1246, 1310, 1366, 1420, 1500, 1554, 1630, 1686,
           1744, 1800, 1876, 1926, 1996, 2054, 2110, 2170, 2226, 2274, 2380, 2450, 2530, 2586, 2650, 2714, 2800,
           2860, 2936, 2995, 3000]
H_RED_V = [69.5, 73.5, 58, 55, 59.5, 54, 52.5, 55, 63, 53.5, 52.5, 57, 55.5, 77.5, 56.5, 54.5, 77, 53.5, 67.5, 68,
           55.5, 53, 65, 60, 59, 58.5, 54.5, 66.5, 90, 57, 80, 56.5, 67, 72.5, 69.5, 63, 74, 88]
H_GRN_T = [600, 670, 860, 926, 970, 1024, 1100, 1140, 1200, 1246, 1310, 1366, 1500, 1554, 1630, 1686, 1744, 1800,
           1876, 1926, 1996, 2054, 2110, 2170, 2226, 2380, 2450, 2530, 2586, 2650, 2714, 2800, 2860, 2936, 3000]
H_GRN_V = [32, 25, 32.5, 27, 25, 27.5, 26.5, 31, 26.5, 25, 29, 25, 26, 27, 50, 26.5, 33, 28.5, 29, 26, 38, 31, 32.5,
           30, 25, 65, 25, 53, 26, 38.5, 33.5, 42, 31.5, 45]
H_PTS = [(616, [47, 48.5, 50, 51.5, 53, 55, 57, 59, 60.5, 62, 63.5]),
         (640, [44.5, 46, 47.5, 49, 51, 53.5, 55.5, 58, 60.5, 63, 65, 67, 68]), (650, [1, 4, 5.5, 7, 8.5, 11]),
         (666, [29.5]), (690, [44.5, 46, 47.5, 49.5, 51.5, 53.5, 55.5, 57, 59, 62.5, 64.5, 67]),
         (714, [56.5, 58, 60, 62, 64, 66, 67.5, 73]), (720, [1, 4, 5]),
         (754, [36.5, 38.5, 39.5, 44.5, 46.5, 48.5, 50.5, 52.5, 54.5, 56.5]), (786, [12, 14.5]),
         (814, [33, 34.5, 37, 38.5, 41, 43, 45, 47, 49, 51, 53, 54.5]), (840, [20]),
         (870, [34, 36, 38, 40, 42, 44.5, 47, 49.5, 52, 54.5, 57.5]), (894, [1, 5, 9, 14, 17, 20, 22, 24.5]),
         (914, [18.5, 20.5, 22.5, 26, 28]), (954, [7.5, 8.5, 9.5, 10.5, 11.5, 13, 14.5, 16.5, 19, 24.5, 28.5]),
         (980, [30]), (1010, [11, 12, 13, 14, 15, 16.5, 18, 19.5, 21.5, 23]), (1040, [34.5, 38.5, 42, 45.5, 49, 52.5, 54]),
         (1066, [18.5, 21]), (1100, [31, 33, 35, 37.5, 40, 42, 44, 46.5, 48.5, 50.5, 52.5]), (1110, [2]),
         (1150, [37, 38.5, 40, 42, 44, 46.5, 48.5, 50, 52, 55, 57, 58.5, 60.5, 62]), (1170, [3, 3.5]), (1186, [12]),
         (1226, [0.5, 4, 6, 8.5, 10, 12, 14, 16.5, 18, 20.5]), (1244, [28.5, 23.5]), (1254, [26, 46.5]),
         (1290, [7.5, 9, 10, 11, 12, 13.5, 15, 17, 19.5]), (1310, [36.5, 38, 40, 42, 44, 45.5]), (1346, [11.5, 14.5]),
         (1360, [22, 24, 25.5, 27, 29, 31, 33, 35, 37, 39, 41, 42.5, 44, 46, 48]),
         (1390, [4, 6, 8, 9.5, 11.5, 13.5, 15.5, 17]), (1396, [23, 24.5]),
         (1446, [50, 52, 54, 56, 58, 60, 62, 64, 66.5, 68, 70, 72, 74, 76]), (1460, [0.5, 6.5, 9, 10]),
         (1480, [18.5, 19]), (1500, [32.5, 41]), (1510, [48, 50.5, 53, 55]),
         (1526, [0.5, 2, 4, 6, 8, 10, 12.5, 14.5, 17, 19, 20]), (1570, [30, 32, 36, 40, 44]), (1590, [17.5]),
         (1620, [29, 31, 33, 35.5, 37.5, 39.5, 43.5, 45.5, 49.5]), (1640, [55, 61, 69]),
         (1660, [5, 6, 7, 8, 9, 10, 11, 12, 13, 14.5, 16, 17.5, 19.5, 21.5, 23, 25]), (1680, [29]),
         (1706, [33, 36, 38.5, 41, 43.5, 46, 48.5, 50.5]), (1720, [0.5]), (1740, [30.5, 32, 33.5, 35, 36.5, 38.5, 40.5]),
         (1760, [48, 51, 55, 58, 61, 62.5, 65, 67]), (1780, [2, 16]), (1816, [38.5, 41, 43.5, 46, 49]),
         (1826, [58, 60.5, 62.5, 64, 65.5]), (1870, [28, 30, 32, 34.5, 37, 39, 41.5, 44, 46, 49]), (1880, [8, 9.5]),
         (1910, [30, 32.5, 34.5, 37, 39.5, 42, 44]), (1946, [34, 36.5, 39, 41.5, 44, 46.5, 49]),
         (1986, [30, 32.5, 35, 37, 39.5, 42, 44.5]), (2026, [17.5, 19.5]),
         (2040, [30, 32, 35, 38, 41, 44, 47, 50, 52.5, 55, 57.5]), (2080, [0.5, 25]),
         (2094, [33, 36, 39, 42, 45, 48, 51, 54]), (2134, [31, 33.5, 36, 38.5, 41, 43.5, 46, 48.5, 51]),
         (2160, [27, 29, 31.5, 34, 36.5, 39, 41.5, 44, 46.5]), (2190, [0.5, 2, 37, 40, 43, 46, 49, 52, 55, 57.5]),
         (2226, [34, 36.5, 39, 41.5, 44, 46.5, 49]), (2246, [5, 9, 10.5, 12.5, 14.5, 37, 40, 43, 46, 49, 52]),
         (2270, [23, 33, 35.5, 38, 40.5, 43]), (2290, [44, 46.5, 49, 51.5, 54, 56.5, 59, 61.5, 63.5]),
         (2324, [8.5, 14.5, 21.5]), (2350, [30, 32, 34.5, 43.5, 46, 48]), (2400, [75.5, 78, 82, 84, 86, 88, 89]),
         (2420, [0.5, 21.5]), (2456, [33, 35, 37, 39, 41, 43, 45, 47, 49, 51, 53, 55, 57, 59, 61]),
         (2480, [0.5, 24.5, 31.5]), (2510, [41, 43, 45, 47.5, 50]), (2546, [74, 79.5]),
         (2580, [23, 25, 27, 29, 31.5, 34, 36.5, 39, 41.5, 44, 46.5, 49, 51.5, 54, 56]), (2610, [1, 4, 6.5, 9, 12]),
         (2660, [11, 13.5, 5.5]), (2670, [36.5, 39, 41.5, 44, 46.5, 49, 51.5, 54, 56.5, 60, 66]), (2710, [24]),
         (2740, [42, 44.5, 47, 49.5, 52, 54.5, 57, 59.5, 62, 64.5, 66.5, 68.5]), (2760, [16]),
         (2796, [32, 34, 36.5, 39, 41.5, 44, 46.5, 49.5, 52.5, 55.5, 58, 61, 64]), (2810, [15, 21.5, 23]),
         (2854, [30.5, 32, 34, 36.5, 39, 41.5, 44, 47, 50, 53, 56, 59, 62]), (2866, [0.5, 2, 3.5, 8.5, 16, 17.5, 22.5]),
         (2900, [43.5]), (2920, [55, 58, 60, 62, 63.5, 65, 67, 69]), (2960, [5.5]), (2986, [22, 27.5, 32.5])]

PANELS = [
    (A_RED_T, A_RED_V, A_GRN_T, A_GRN_V, A_PTS),
    (B_RED_T, B_RED_V, B_GRN_T, B_GRN_V, B_PTS),
    (C_RED_T, C_RED_V, C_GRN_T, C_GRN_V, C_PTS),
    (D_T, D_RED_V, D_T, D_GRN_V, D_PTS),
    (E_RED_T, E_RED_V, E_GRN_T, E_GRN_V, E_PTS),
    (F_RED_T, F_RED_V, F_GRN_T, F_GRN_V, F_PTS),
    (G_RED_T, G_RED_V, G_GRN_T, G_GRN_V, G_PTS),
    (H_RED_T, H_RED_V, H_GRN_T, H_GRN_V, H_PTS),
]

# ---------------- layout geometry (page pixels) ----------------
# The body margin is removed after plotting, so the figure fills the whole window.
W, H = 1104, 1623
COL_X = [(81.7, 497.7), (655.0, 1055.7)]
ROW_Y = [(69, 321), (479, 732), (889, 1142), (1299, 1552)]
TITLE_X = [93, 667]
FONT = "Liberation Sans, Arial, sans-serif"


def fx(px):
    return px / W


def fy(py):
    return 1 - py / H


fig = go.Figure()
annotations = []
layout = {}

for i, (rt, rv, gt, gv, pts) in enumerate(PANELS):
    n = i + 1
    col, row = i % 2, i // 2
    xa = "x" if n == 1 else f"x{n}"
    ya = "y" if n == 1 else f"y{n}"
    gy = list(gv) + [gv[-1]]
    ry = list(rv) + [rv[-1]]
    # band fill
    fig.add_trace(go.Scatter(x=gt, y=gy, mode="lines", line=dict(width=0, shape="hv", color="rgba(0,0,0,0)"),
                             xaxis=xa, yaxis=ya, hoverinfo="skip", showlegend=False))
    fig.add_trace(go.Scatter(x=rt, y=ry, mode="lines", line=dict(width=0, shape="hv", color="rgba(0,0,0,0)"),
                             fill="tonexty", fillcolor="#92d050",
                             xaxis=xa, yaxis=ya, hoverinfo="skip", showlegend=False))
    # lines
    fig.add_trace(go.Scatter(x=gt, y=gy, mode="lines", line=dict(width=3.5, shape="hv", color="#00b050"),
                             xaxis=xa, yaxis=ya, showlegend=False))
    fig.add_trace(go.Scatter(x=rt, y=ry, mode="lines", line=dict(width=3.5, shape="hv", color="#ff0000"),
                             xaxis=xa, yaxis=ya, showlegend=False))
    # points
    px, py = [], []
    for t, ys in pts:
        for v in ys:
            px.append(t)
            py.append(v)
    fig.add_trace(go.Scatter(x=px, y=py, mode="markers",
                             marker=dict(symbol="diamond", size=5.5, color="black", line=dict(width=0)),
                             xaxis=xa, yaxis=ya, showlegend=False))

    x0, x1 = COL_X[col]
    y0, y1 = ROW_Y[row]
    layout["xaxis" if n == 1 else f"xaxis{n}"] = dict(
        domain=[fx(x0), fx(x1)], anchor=ya, range=[600, 3000], tickvals=X_TICKS, automargin=False,
        ticks="outside", ticklen=4, tickwidth=1.5, tickcolor="black",
        showline=True, mirror=True, linecolor="black", linewidth=1.5,
        showgrid=False, zeroline=False, tickfont=dict(family=FONT, size=20, color="black"),
        ticklabelstandoff=3, fixedrange=True)
    layout["yaxis" if n == 1 else f"yaxis{n}"] = dict(
        domain=[fy(y1), fy(y0)], anchor=xa, range=[0, 90], tickvals=Y_TICKS, automargin=False,
        ticks="outside", ticklen=6, tickwidth=1.5, tickcolor="black",
        showline=True, mirror=True, linecolor="black", linewidth=1.5,
        showgrid=False, zeroline=False, tickfont=dict(family=FONT, size=20, color="black"),
        ticklabelstandoff=8, fixedrange=True)
    # companion axis that draws the inner half of the crossing y ticks
    layout[f"yaxis{n + 8}"] = dict(
        domain=[fy(y1), fy(y0)], anchor=xa, overlaying=ya, side="left", range=[0, 90], tickvals=Y_TICKS,
        automargin=False, ticks="inside", ticklen=5, tickwidth=1.5, tickcolor="black",
        showticklabels=False, showline=False, showgrid=False, zeroline=False, fixedrange=True)

    # titles
    annotations.append(dict(text="<b>" + TITLES1[i] + "</b>", xref="paper", yref="paper",
                            x=fx(TITLE_X[col]), y=fy(y0 - 49), xanchor="left", yanchor="middle",
                            showarrow=False, font=dict(family=FONT, size=26.5, color="black")))
    annotations.append(dict(text="<b>" + TITLES2[i] + "</b>", xref="paper", yref="paper",
                            x=fx(TITLE_X[col]), y=fy(y0 - 17), xanchor="left", yanchor="middle",
                            showarrow=False, font=dict(family=FONT, size=26.5, color="black")))
    # axis titles
    annotations.append(dict(text="Time in Cycle (s)", xref="paper", yref="paper",
                            x=fx(x0 - 60), y=fy((y0 + y1) / 2), xanchor="center", yanchor="middle",
                            textangle=-90, showarrow=False, font=dict(family=FONT, size=21, color="black")))
    annotations.append(dict(text="Simulation Time (s)", xref="paper", yref="paper",
                            x=fx((x0 + x1) / 2), y=fy(y1 + 57), xanchor="center", yanchor="middle",
                            showarrow=False, font=dict(family=FONT, size=21, color="black")))

fig.update_layout(template="none", width=W, height=H, margin=dict(l=0, r=0, t=0, b=0, pad=0), autosize=False,
                  paper_bgcolor="white", plot_bgcolor="white", showlegend=False,
                  font=dict(family=FONT, color="black"),
                  annotations=annotations, **layout)

fig.write_html("out.html", config={"displayModeBar": False},
               post_script="document.body.style.margin='0px';document.documentElement.style.overflow='hidden';")
